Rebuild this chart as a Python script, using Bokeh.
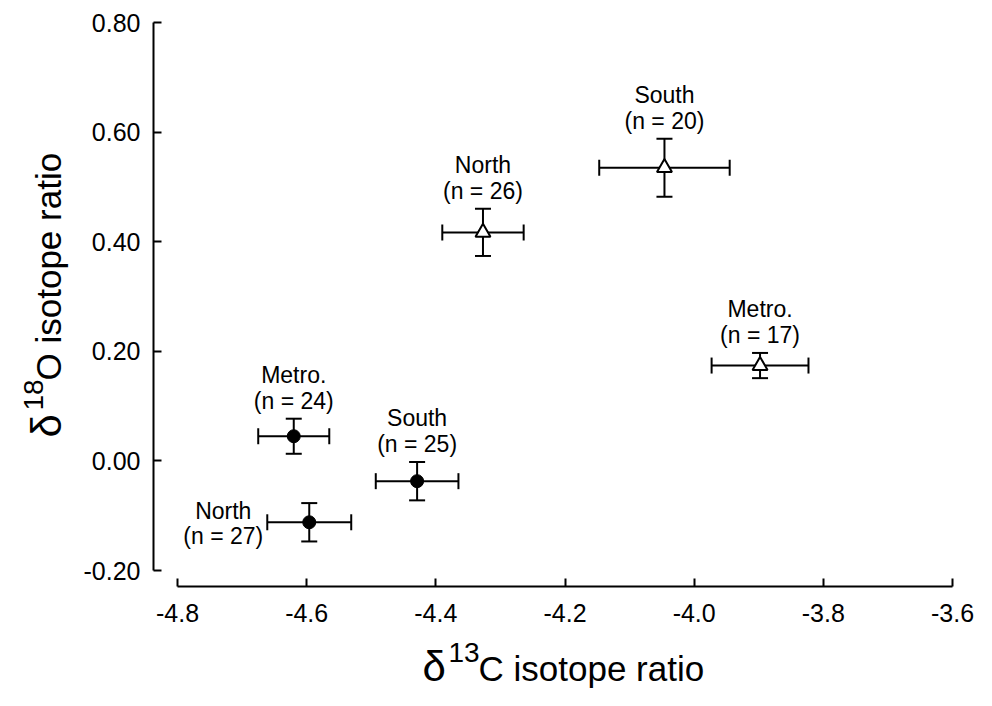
import math
from bokeh.plotting import figure
from bokeh.models import (ColumnDataSource, Whisker, TeeHead, Range1d, FixedTicker,
                          CustomJSTickFormatter)
from bokeh.core.properties import value
from bokeh.embed import file_html
from bokeh.resources import INLINE

# ---------------- data ----------------
filled_site = ["Metro.", "North", "South"]
filled_n = [24, 27, 25]
filled_x = [-4.620, -4.596, -4.429]
filled_xerr = [0.055, 0.065, 0.064]
filled_y = [0.045, -0.112, -0.037]
filled_yerr = [0.032, 0.035, 0.035]

open_site = ["North", "South", "Metro."]
open_n = [26, 20, 17]
open_x = [-4.327, -4.046, -3.898]
open_xerr = [0.063, 0.101, 0.075]
open_y = [0.417, 0.535, 0.174]
open_yerr = [0.043, 0.053, 0.023]

x_ticks = [-4.8, -4.6, -4.4, -4.2, -4.0, -3.8, -3.6]
x_tick_labels = ["-4.8", "-4.6", "-4.4", "-4.2", "-4.0", "-3.8", "-3.6"]
y_ticks = [-0.2, 0.0, 0.2, 0.4, 0.6, 0.8]
y_tick_labels = ["-0.20", "0.00", "0.20", "0.40", "0.60", "0.80"]

# label placement (style): "above" or "left"
filled_label_side = ["above", "left", "above"]
open_label_side = ["above", "above", "above"]

# ---------------- layout (canvas pixels -> data) ----------------
W, H = 976, 690
XPX0, XPX1 = 177, 952   # canvas px of first / last x tick
YPX0, YPX1 = 22, 570    # canvas px of top / bottom y tick


def dx(px):
    return x_ticks[0] + (px - XPX0) * (x_ticks[-1] - x_ticks[0]) / (XPX1 - XPX0)


def dy(py):
    return y_ticks[-1] - (py - YPX0) * (y_ticks[-1] - y_ticks[0]) / (YPX1 - YPX0)


FONT = "Liberation Sans"

p = figure(width=W, height=H, output_backend="svg", toolbar_location=None,
           x_range=Range1d(dx(0), dx(W)), y_range=Range1d(dy(H), dy(0)),
           min_border=0, min_border_left=0, min_border_right=0,
           min_border_top=0, min_border_bottom=0)
p.title.visible = False
p.grid.visible = False
p.outline_line_color = None
p.background_fill_color = "white"
p.border_fill_color = "white"

# axes (drawn inside the frame at fixed locations, offset from each other)
xa = p.xaxis[0]
ya = p.yaxis[0]
xa.fixed_location = dy(586)
ya.fixed_location = dx(153)
xa.ticker = FixedTicker(ticks=x_ticks)
ya.ticker = FixedTicker(ticks=y_ticks)
xa.formatter = CustomJSTickFormatter(args=dict(labels=x_tick_labels), code="return labels[index]")
ya.formatter = CustomJSTickFormatter(args=dict(labels=y_tick_labels), code="return labels[index]")
xa.bounds = (x_ticks[0], x_ticks[-1])
ya.bounds = (y_ticks[0], y_ticks[-1])
for ax in (xa, ya):
    ax.axis_line_color = "black"
    ax.axis_line_width = 2
    ax.major_tick_line_color = "black"
    ax.major_tick_line_width = 2
    ax.major_tick_in = 8
    ax.major_tick_out = 0
    ax.minor_tick_line_color = None
    ax.major_label_text_font = FONT
    ax.major_label_text_font_size = "25px"
    ax.major_label_text_color = "black"
    ax.axis_label = None
xa.major_label_standoff = 17
ya.major_label_standoff = 13


def make_source(xs, xe, ys, ye):
    return ColumnDataSource(dict(
        x=xs, y=ys,
        xl=[a - b for a, b in zip(xs, xe)], xu=[a + b for a, b in zip(xs, xe)],
        yl=[a - b for a, b in zip(ys, ye)], yu=[a + b for a, b in zip(ys, ye)],
    ))


src_f = make_source(filled_x, filled_xerr, filled_y, filled_yerr)
src_o = make_source(open_x, open_xerr, open_y, open_yerr)

for src in (src_f, src_o):
    for base, lo, up, dim in (("x", "yl", "yu", "height"), ("y", "xl", "xu", "width")):
        w = Whisker(source=src, base=base, lower=lo, upper=up, dimension=dim,
                    line_color="black", line_width=2,
                    upper_head=TeeHead(size=16, line_color="black", line_width=2),
                    lower_head=TeeHead(size=16, line_color="black", line_width=2))
        p.add_layout(w)

p.scatter("x", "y", source=src_f, marker="circle", size=13,
          fill_color="black", line_color="black", line_width=1)
p.scatter("x", "y", source=src_o, marker="triangle", size=15,
          fill_color="white", line_color="black", line_width=2)

# point labels
above = dict(x=[], y=[], name=[], ntext=[])
left = dict(x=[], y=[], name=[], ntext=[])
for xs, xe, ys, ye, sites, ns, sides in (
        (filled_x, filled_xerr, filled_y, filled_yerr, filled_site, filled_n, filled_label_side),
        (open_x, open_xerr, open_y, open_yerr, open_site, open_n, open_label_side)):
    for i in range(len(xs)):
        if sides[i] == "above":
            tgt = above
            tgt["x"].append(xs[i]); tgt["y"].append(ys[i] + ye[i])
        else:
            tgt = left
            tgt["x"].append(xs[i] - xe[i]); tgt["y"].append(ys[i])
        tgt["name"].append(sites[i]); tgt["ntext"].append(f"(n = {ns[i]})")

txt = dict(text_align="center", text_baseline="alphabetic", text_color="black",
           text_font=value(FONT), text_font_size="23px")
sa = ColumnDataSource(above)
sl = ColumnDataSource(left)
p.text("x", "y", text="name", source=sa, y_offset=-44, **txt)
p.text("x", "y", text="ntext", source=sa, y_offset=-18, **txt)
p.text("x", "y", text="name", source=sl, x_offset=-44, y_offset=-11, **txt)
p.text("x", "y", text="ntext", source=sl, x_offset=-44, y_offset=14, **txt)

# axis titles: delta + superscript mass number + rest
tt = dict(text_align="left", text_baseline="alphabetic", text_color="black",
          text_font=value(FONT))
p.text(x=[dx(422)], y=[dy(666)], text=["δ"], text_font_size="42px", **tt)
p.text(x=[dx(448)], y=[dy(652)], text=["13"], text_font_size="28px", **tt)
p.text(x=[dx(478)], y=[dy(668)], text=["C isotope ratio"], text_font_size="35px", **tt)

p.text(x=[dx(46)], y=[dy(437)], text=["δ"], text_font_size="42px", angle=math.pi / 2, **tt)
p.text(x=[dx(33)], y=[dy(410)], text=["18"], text_font_size="28px", angle=math.pi / 2, **tt)
p.text(x=[dx(48)], y=[dy(380)], text=["O isotope ratio"], text_font_size="35px",
       angle=math.pi / 2, **tt)

open("out.html", "w").write(file_html(p, INLINE))
